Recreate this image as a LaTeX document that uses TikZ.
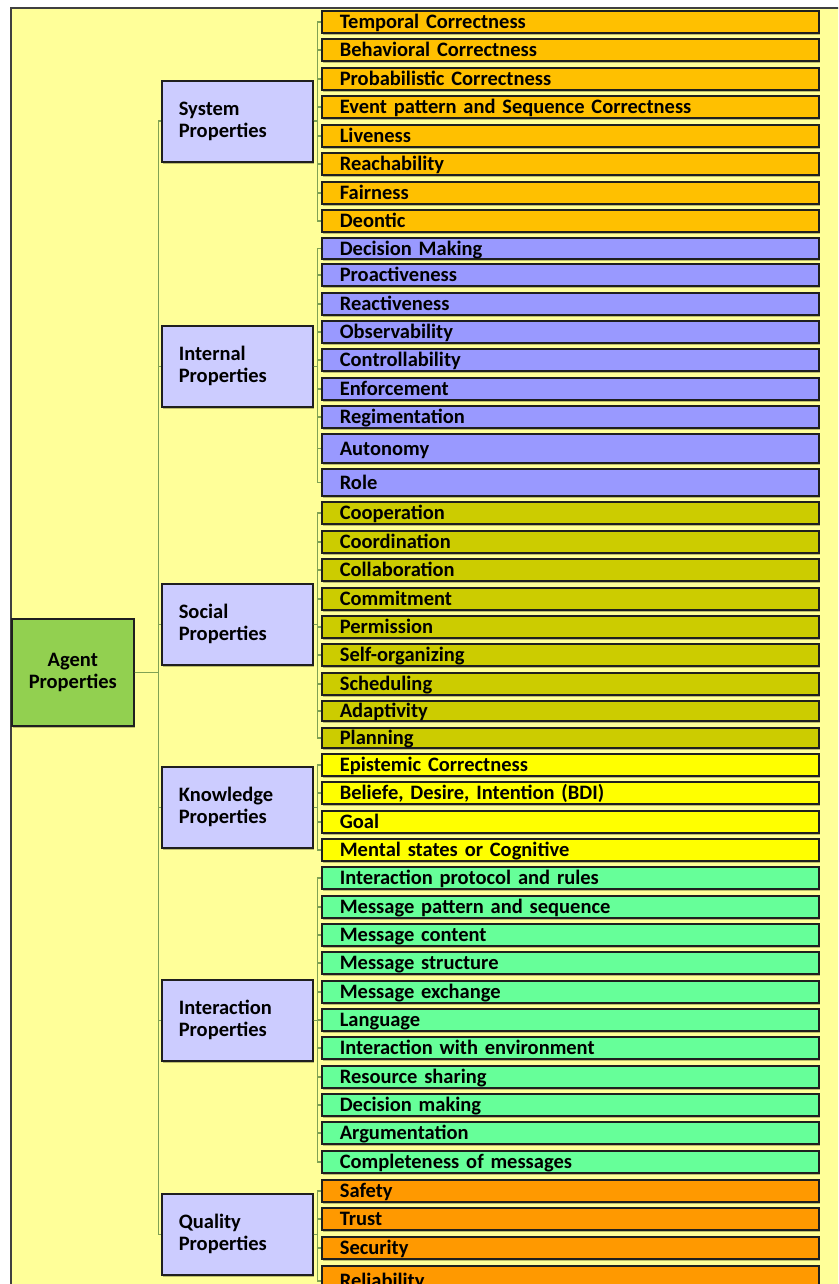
\documentclass[tikz,border=0pt]{standalone}
\usepackage{fontspec}
\setmainfont{Carlito}
\usetikzlibrary{shadows}

\definecolor{panel}{HTML}{FFFF99}
\definecolor{conncol}{RGB}{128,162,84}
\definecolor{agentfill}{HTML}{92D050}
\definecolor{catfill}{HTML}{CCCCFF}
\definecolor{sysfill}{HTML}{FFC000}
\definecolor{intfill}{HTML}{9999FF}
\definecolor{socfill}{HTML}{CCCC00}
\definecolor{knofill}{HTML}{FFFF00}
\definecolor{actfill}{HTML}{66FF99}
\definecolor{qualfill}{HTML}{FF9900}
\definecolor{shadowcol}{RGB}{90,90,40}

% one property box of a category: name, top, height, fill, text
\newcommand\propbox[5]{%
  \node[leaf, fill=#4, minimum height=#3pt] (#1) at (321,#2) {#5};}

\begin{document}
\begin{tikzpicture}[x=1pt, y=-1pt,
  boxed/.style={draw=black!88, line width=1.6pt,
    drop shadow={shadow xshift=1.2pt, shadow yshift=-2.2pt, opacity=0.4,
      fill=shadowcol}},
  leaf/.style={boxed, anchor=north west, minimum width=497pt,
    text width=461pt, inner xsep=18pt, inner ysep=0pt, align=left,
    text height=16pt, text depth=2pt,
    font=\bfseries\fontsize{20.5}{22}\selectfont},
  catbox/.style={boxed, anchor=north west, fill=catfill,
    minimum width=151pt, minimum height=81pt, text width=117pt,
    inner xsep=17pt, align=left,
    font=\bfseries\fontsize{20.5}{22}\selectfont},
  rootbox/.style={boxed, anchor=north west, fill=agentfill,
    minimum width=122pt, minimum height=107pt, text width=110pt,
    inner xsep=6pt, align=center,
    font=\bfseries\fontsize{20.5}{22}\selectfont},
  conn/.style={draw=conncol, line width=1.6pt}]

\useasboundingbox (0,0) rectangle (838,1284);
\clip (0,0) rectangle (838,1284);

% panel behind the tree
\fill[white] (0,0) rectangle (838,1284);
\draw[fill=panel, draw=black!75, line width=1.4pt] (11,8) rectangle (860,1300);

% root and categories
\node[rootbox] (agent) at (11,618) {Agent\\Properties};
\node[catbox] (sys)  at (161,80)   {System\\Properties};
\node[catbox] (int)  at (161,325)  {Internal\\Properties};
\node[catbox] (soc)  at (161,583)  {Social\\Properties};
\node[catbox] (kno)  at (161,766)  {Knowledge\\Properties};
\node[catbox] (act)  at (161,979)  {Interaction\\Properties};
\node[catbox] (qual) at (161,1193) {Quality\\Properties};

% system properties
\propbox{s1}{10}{22}{sysfill}{Temporal Correctness}
\propbox{s2}{38}{22}{sysfill}{Behavioral Correctness}
\propbox{s3}{67}{22}{sysfill}{Probabilistic Correctness}
\propbox{s4}{95}{22}{sysfill}{Event pattern and Sequence Correctness}
\propbox{s5}{124}{22}{sysfill}{Liveness}
\propbox{s6}{152}{22}{sysfill}{Reachability}
\propbox{s7}{181}{22}{sysfill}{Fairness}
\propbox{s8}{209}{22}{sysfill}{Deontic}

% internal properties
\propbox{i1}{237}{21}{intfill}{Decision Making}
\propbox{i2}{263}{22}{intfill}{Proactiveness}
\propbox{i3}{292}{22}{intfill}{Reactiveness}
\propbox{i4}{320}{22}{intfill}{Observability}
\propbox{i5}{348}{22}{intfill}{Controllability}
\propbox{i6}{377}{22}{intfill}{Enforcement}
\propbox{i7}{405}{22}{intfill}{Regimentation}
\propbox{i8}{433}{29}{intfill}{Autonomy}
\propbox{i9}{468}{27}{intfill}{Role}

% social properties
\propbox{c1}{501}{22}{socfill}{Cooperation}
\propbox{c2}{530}{22}{socfill}{Coordination}
\propbox{c3}{558}{22}{socfill}{Collaboration}
\propbox{c4}{587}{22}{socfill}{Commitment}
\propbox{c5}{615}{22}{socfill}{Permission}
\propbox{c6}{643}{22}{socfill}{Self-organizing}
\propbox{c7}{672}{22}{socfill}{Scheduling}
\propbox{c8}{700}{20}{socfill}{Adaptivity}
\propbox{c9}{727}{20}{socfill}{Planning}

% knowledge properties
\propbox{k1}{753}{22}{knofill}{Epistemic Correctness}
\propbox{k2}{781}{22}{knofill}{Beliefe, Desire, Intention (BDI)}
\propbox{k3}{810}{22}{knofill}{Goal}
\propbox{k4}{838}{22}{knofill}{Mental states or Cognitive}

% interaction properties
\propbox{a1}{866}{22}{actfill}{Interaction protocol and rules}
\propbox{a2}{895}{22}{actfill}{Message pattern and sequence}
\propbox{a3}{923}{22}{actfill}{Message content}
\propbox{a4}{951}{22}{actfill}{Message structure}
\propbox{a5}{980}{22}{actfill}{Message exchange}
\propbox{a6}{1008}{22}{actfill}{Language}
\propbox{a7}{1036}{22}{actfill}{Interaction with environment}
\propbox{a8}{1065}{22}{actfill}{Resource sharing}
\propbox{a9}{1093}{22}{actfill}{Decision making}
\propbox{a10}{1121}{22}{actfill}{Argumentation}
\propbox{a11}{1150}{22}{actfill}{Completeness of messages}

% quality properties
\propbox{q1}{1179}{22}{qualfill}{Safety}
\propbox{q2}{1207}{22}{qualfill}{Trust}
\propbox{q3}{1236}{22}{qualfill}{Security}
\propbox{q4}{1265}{30}{qualfill}{Reliability}

% trunk from the root to the categories
\foreach \c in {sys,int,soc,kno,act,qual}
  \draw[conn] (agent.east) -- ++(24,0) |- (\c.west);

% branches from each category to its properties
\foreach \l in {s1,s2,s3,s4,s5,s6,s7,s8}
  \draw[conn] (sys.east) -- ++(4,0) |- (\l.west);
\foreach \l in {i1,i2,i3,i4,i5,i6,i7,i8,i9}
  \draw[conn] (int.east) -- ++(4,0) |- (\l.west);
\foreach \l in {c1,c2,c3,c4,c5,c6,c7,c8,c9}
  \draw[conn] (soc.east) -- ++(4,0) |- (\l.west);
\foreach \l in {k1,k2,k3,k4}
  \draw[conn] (kno.east) -- ++(4,0) |- (\l.west);
\foreach \l in {a1,a2,a3,a4,a5,a6,a7,a8,a9,a10,a11}
  \draw[conn] (act.east) -- ++(4,0) |- (\l.west);
\foreach \l in {q1,q2,q3,q4}
  \draw[conn] (qual.east) -- ++(4,0) |- (\l.west);

\end{tikzpicture}
\end{document}
